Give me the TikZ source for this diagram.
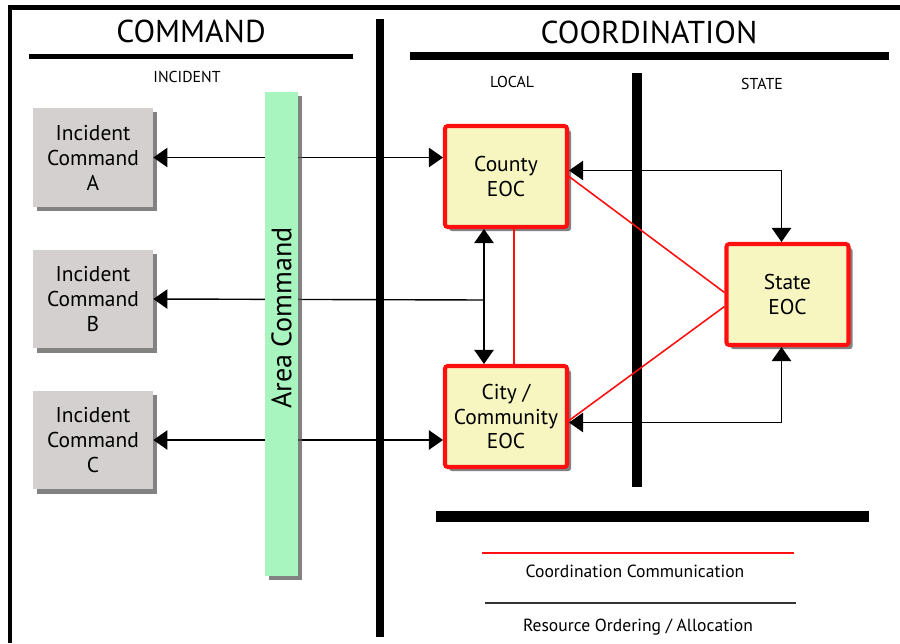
\documentclass[tikz,border=0pt]{standalone}
\usepackage{fontspec}
\setmainfont{PT Sans}
\usepackage{tikz}
\usetikzlibrary{arrows.meta,calc,shadows}

\definecolor{boxgray}{HTML}{D4D0CF}
\definecolor{eocyellow}{HTML}{F7F6C0}
\definecolor{areagreen}{HTML}{A8F5BF}
\definecolor{eocred}{HTML}{FF1010}

\tikzset{
  myshadow/.style={drop shadow={shadow xshift=2.3pt, shadow yshift=-2.3pt, opacity=.75, fill=black!65}},
  incbox/.style={fill=boxgray, minimum width=2.4cm, minimum height=1.98cm, align=center,
    font=\fontsize{12.2}{14.2}\selectfont, myshadow},
  eocbox/.style={fill=eocyellow, draw=eocred, line width=2.3pt, rounded corners=1.5pt,
    minimum width=2.44cm, minimum height=2.02cm, align=center,
    font=\fontsize{12.2}{14.2}\selectfont, myshadow},
  conn/.style={line width=0.8pt, black},
  coordline/.style={eocred, line width=0.9pt},
  divider/.style={line width=#1, black},
  title/.style={font=\fontsize{18}{20}\selectfont},
  subtitle/.style={font=\fontsize{9}{10}\selectfont},
  legend/.style={font=\fontsize{10}{12}\selectfont},
}

\begin{document}
\begin{tikzpicture}[x=0.02cm, y=-0.02cm, >={Triangle[width=11pt,length=8pt]}]
\fill[white] (0,0) rectangle (900,643);
\useasboundingbox (0,0) rectangle (900,643);

% frame and dividers
\draw[divider=2.8pt] (10,7.5) -- (900,7.5);
\draw[divider=2.3pt] (10,5) -- (10,643);
\draw[divider=3.4pt] (29,56.5) -- (353,56.5);
\draw[divider=4.5pt] (410,56) -- (889,56);
\draw[divider=4.5pt] (380,19) -- (380,637);
\draw[divider=5.7pt] (637,73) -- (637,487);
\draw[divider=6.2pt] (436,516.5) -- (869,516.5);

% headings
\node[title] (cmdtitle) at (191,31) {COMMAND};
\node[title] (coortitle) at (649,32) {COORDINATION};
\node[subtitle] (inclbl) at (187,77) {INCIDENT};
\node[subtitle] (locallbl) at (512,82) {LOCAL};
\node[subtitle] (statelbl) at (762,84) {STATE};

% boxes
\node[incbox] (icA) at (93,157.5) {Incident\\Command\\A};
\node[incbox] (icB) at (93,299) {Incident\\Command\\B};
\node[incbox] (icC) at (93,440) {Incident\\Command\\C};
\node[eocbox] (county) at (506,176.5) {County\\EOC};
\node[eocbox] (city) at (506,416.5) {City /\\Community\\EOC};
\node[eocbox] (state) at (787.5,294.5) {State\\EOC};

% resource ordering
\coordinate (jn) at (484,300);
\draw[conn,<->] (icA.east) -- (icA.east -| county.west);
\draw[conn,<-] (icB.east) -- (jn);
\draw[conn,<->] (icC.east) -- (icC.east -| city.west);
\draw[conn,<->] (jn |- county.south) -- (jn |- city.north);
\draw[conn,<->] ($(county.east)+(0,-6)$) -| ($(state.north)+(-6,0)$);
\draw[conn,<->] ($(city.east)+(0,6)$) -| ($(state.south)+(-6,0)$);

% coordination
\draw[coordline] ($(county.south)+(8,0)$) -- ($(city.north)+(8,0)$);
\draw[coordline] (county.east) -- ($(state.west)+(0,-2)$);
\draw[coordline] ($(state.west)+(0,12)$) -- ($(city.east)+(0,4)$);

% area command
\node[fill=areagreen, minimum width=0.66cm, minimum height=9.68cm, inner sep=0pt, myshadow] (area) at (281.5,334) {};
\node[rotate=90, font=\fontsize{16}{18}\selectfont] (arealbl) at (281.5,318) {Area Command};

% legend
\draw[coordline] (482,553) -- (794,553);
\node[legend] (coordlbl) at (635,571) {Coordination Communication};
\draw[conn, line width=1.1pt, black!80] (485,603) -- (796,603);
\node[legend] (reslbl) at (638,627) {Resource Ordering / Allocation};
\end{tikzpicture}
\end{document}
